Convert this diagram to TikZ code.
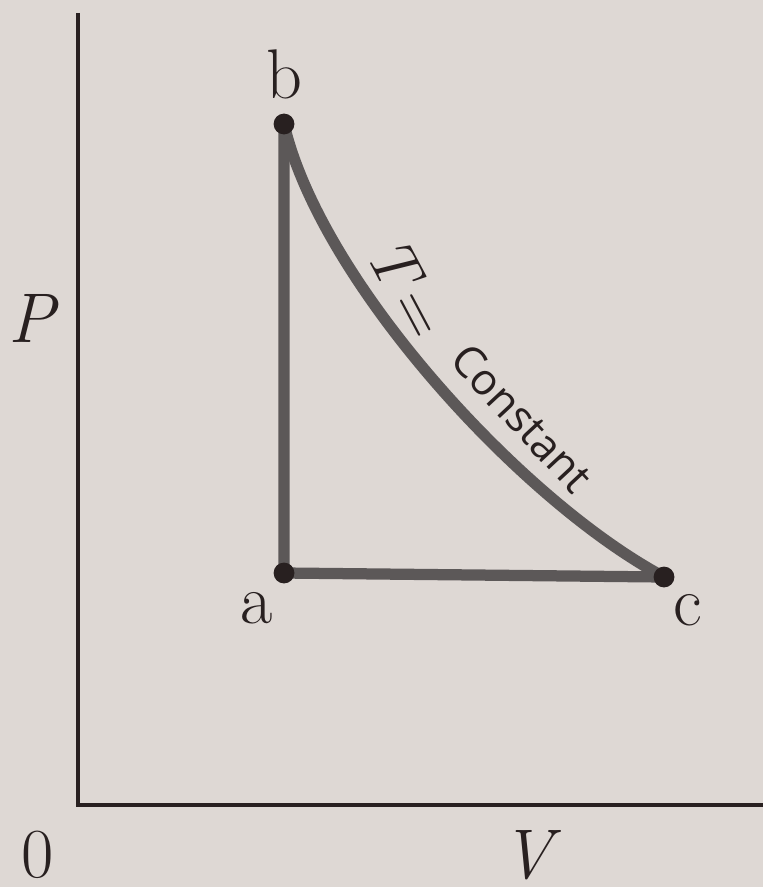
\documentclass[tikz,border=0pt]{standalone}
\usepackage{fontspec}
\newfontfamily\curvefont{Open Sans}
\definecolor{paper}{RGB}{222,216,212}
\definecolor{ink}{RGB}{40,32,32}
\definecolor{pathgray}{RGB}{92,88,88}
\tikzset{
  process/.style={line width=8pt, draw=pathgray, line cap=round, line join=round},
  state/.style={circle, fill=ink, inner sep=0pt, minimum size=0.52cm},
  axis/.style={line width=2.6pt, draw=ink},
  lbl/.style={font=\rmfamily\fontsize{50}{60}\selectfont, text=ink}
}
\begin{document}
\begin{tikzpicture}[x=0.025cm, y=-0.025cm]
\fill[paper] (0,0) rectangle (763,887);
\useasboundingbox (0,0) rectangle (763,887);
% axes
\coordinate (origin) at (78,805);
\coordinate (ytop) at (78,13);
\coordinate (xend) at (763,805);
\draw[axis] (ytop) -- (origin) -- (xend);
% states
\coordinate (pa) at (284,573);
\coordinate (pb) at (284,124);
\coordinate (pc) at (664,577);
\draw[process] (pb) -- (pa) -- (pc);
\draw[process] (pb) .. controls (320,280) and (520,500) .. (pc);
\node[state] (a) at (pa) {};
\node[state] (b) at (pb) {};
\node[state] (c) at (pc) {};
% labels
\node[lbl] (alabel) at (257,608) {a};
\node[lbl] (blabel) at (284,74) {b};
\node[lbl] (clabel) at (688,610) {c};
\node[lbl] (plabel) at (32,318) {\itshape P};
\node[lbl] (vlabel) at (527,855) {\itshape V};
\node[lbl] (zero) at (38,855) {0};
\node[lbl, rotate=-62, font=\rmfamily\fontsize{46}{54}\selectfont] (tlabel) at (408,288) {{\itshape T}\,=};
\node[rotate=-47, text=ink, font=\curvefont\fontsize{31}{38}\selectfont] (constlabel) at (522,418) {Constant};
\end{tikzpicture}
\end{document}
